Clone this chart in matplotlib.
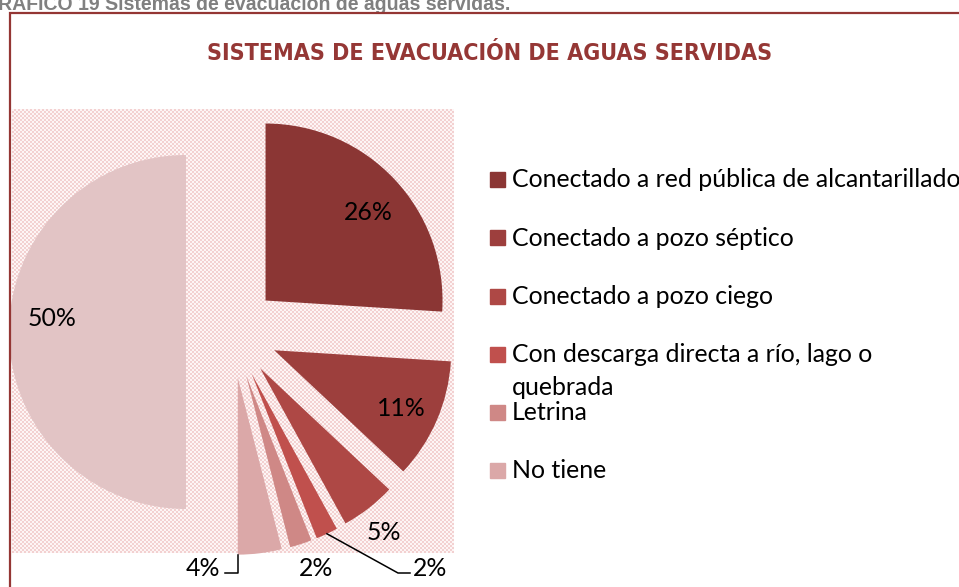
import numpy as np
import matplotlib
matplotlib.use('Agg')
import matplotlib.pyplot as plt
from matplotlib import font_manager
from matplotlib.patches import Rectangle

# datos del gráfico
categorias = ['Conectado a red pública de alcantarillado',
              'Conectado a pozo séptico',
              'Conectado a pozo ciego',
              'Con descarga directa a río, lago o\nquebrada',
              'Letrina',
              'No tiene',
              '']
porcentajes = [26, 11, 5, 2, 2, 4, 50]
colores = ['#8B3634', '#9D3F3D', '#AE4845', '#C0504D', '#CF8886', '#DBA8A8', '#E2C4C5']

titulo = 'SISTEMAS DE EVACUACIÓN DE AGUAS SERVIDAS'
leyenda_sup = 'GRÁFICO 19 Sistemas de evacuación de aguas servidas.'

W, H = 959, 587
def Y(y):
    # coordenadas en pixeles medidas desde arriba
    return H - y

fuentes = {f.name for f in font_manager.fontManager.ttflist}
if 'Liberation Sans Narrow' in fuentes:
    f_titulo, estiro = 'Liberation Sans Narrow', 'normal'
else:
    f_titulo, estiro = 'DejaVu Sans', 'condensed'
f_texto = 'Lato'

fig = plt.figure(figsize=(W / 100, H / 100), dpi=100)
ax = fig.add_axes([0, 0, 1, 1])

# fondo con trama del área del gráfico
x0, x1, y0, y1 = 12, 454, 109, 553
yy, xx = np.indices((y1 - y0, x1 - x0))
mask = ((xx // 2 + yy // 2) % 2).astype(bool)
c_a = np.array(matplotlib.colors.to_rgb('#F3D1D1'))
c_b = np.array(matplotlib.colors.to_rgb('#FDF5F5'))
trama = np.where(mask[..., None], c_a, c_b)
ax.imshow(trama, extent=(x0, x1, Y(y1), Y(y0)), interpolation='nearest', zorder=0, aspect='auto')

# torta con todas las porciones separadas
centro = (232, Y(332))
radio = 177
sep = 46
wedges, _ = ax.pie(porcentajes, colors=colores, startangle=90, counterclock=False,
                   explode=[sep] * len(porcentajes), radius=radio, center=centro,
                   frame=False, wedgeprops=dict(linewidth=0))
for w in wedges:
    w.set_zorder(2)

ax.set_xlim(0, W)
ax.set_ylim(0, H)
ax.set_aspect('auto')
ax.axis('off')

def punto_borde(w, ang):
    cx, cy = w.center
    return cx + w.r * np.cos(np.radians(ang)), cy + w.r * np.sin(np.radians(ang))

# etiquetas de porcentaje
pos_etq = [(368, 213), (401, 408), (384, 533), (430, 568), (316, 568), (203, 568), (52, 318)]
etiquetas = []
for v, (px, py) in zip(porcentajes, pos_etq):
    t = ax.text(px, Y(py), f'{v}%', ha='center', va='center', fontsize=17,
                family=f_texto, color='black', zorder=5)
    etiquetas.append(t)

# líneas guía
w4 = wedges[5]
bx, by = punto_borde(w4, w4.theta1)
ax.plot([bx, bx, 225], [by, Y(573), Y(573)], color='black', lw=1.1, zorder=4)
w2 = wedges[3]
bx, by = punto_borde(w2, (w2.theta1 + w2.theta2) / 2)
ax.plot([bx, 398, 410], [by, Y(573), Y(573)], color='black', lw=1.1, zorder=4)

# leyenda
base = [187, 245.5, 304, 362, 420, 478]
textos_ley = []
for cat, col, b in zip(categorias[:6], colores[:6], base):
    ax.add_patch(Rectangle((490, Y(b - 0.5)), 15, 15, color=col, zorder=3))
    for j, linea in enumerate(cat.split('\n')):
        t = ax.text(512, Y(b + 33 * j), linea, ha='left', va='baseline', fontsize=17,
                    family=f_texto, color='black', zorder=5)
        textos_ley.append(t)

# marco
borde = '#943634'
ax.plot([10, 10, W + 5], [-5, Y(13), Y(13)], color=borde, lw=1.6, zorder=6,
        solid_joinstyle='miter', clip_on=False)

t_titulo = ax.text(489.5, Y(59.5), titulo, ha='center', va='baseline', fontsize=18,
                   fontweight='bold', family=f_titulo, fontstretch=estiro, color='#953735')
t_sup = ax.text(-17, Y(10), leyenda_sup, ha='left', va='baseline', fontsize=12.5,
                fontweight='bold', family='Liberation Sans', color='#808080')

# ajuste de tamaños de letra al ancho deseado
fig.canvas.draw()
r = fig.canvas.get_renderer()
def ajustar(t, ancho):
    bb = t.get_window_extent(r)
    return t.get_fontsize() * ancho / bb.width

fs = ajustar(textos_ley[0], 447)
for t in textos_ley + etiquetas:
    t.set_fontsize(fs)
t_titulo.set_fontsize(ajustar(t_titulo, 567))
t_sup.set_fontsize(ajustar(t_sup, 530))

fig.savefig('out.png', dpi=100)
